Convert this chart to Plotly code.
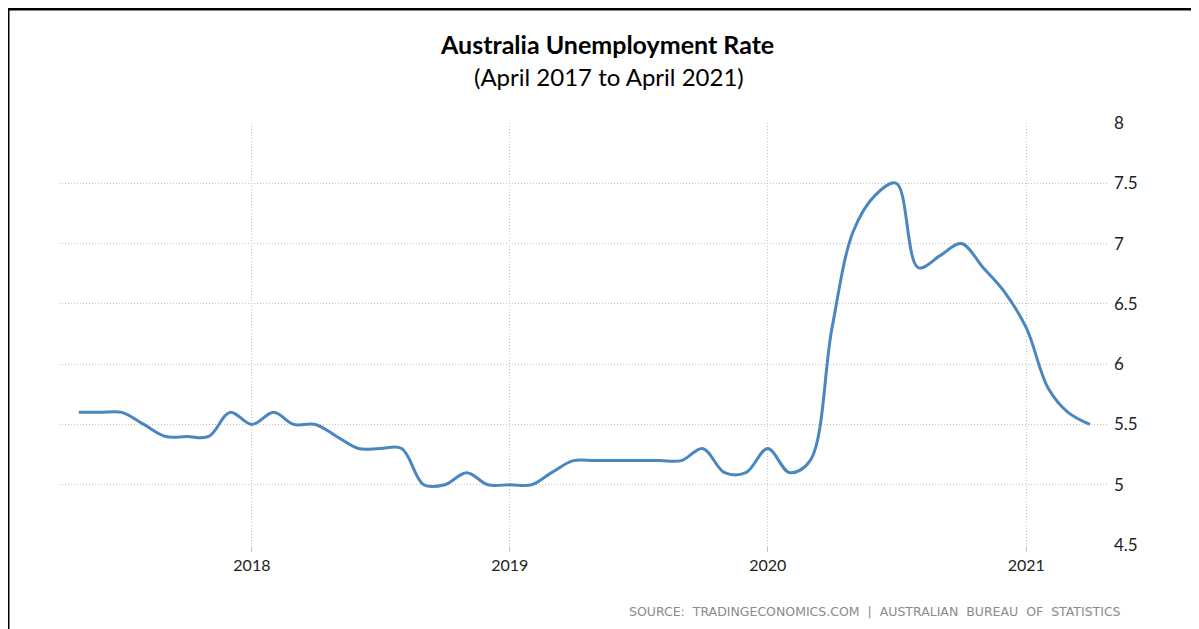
import plotly.graph_objects as go
import pandas as pd

# Monthly dates (month start) and unemployment rate (%)
dates = pd.date_range("2017-05-01", "2021-04-01", freq="MS")
rates = [
    5.6, 5.6, 5.6, 5.5, 5.4, 5.4, 5.4, 5.6,          # May-Dec 2017
    5.5, 5.6, 5.5, 5.5, 5.4, 5.3, 5.3, 5.3, 5.0, 5.0, 5.1, 5.0,  # 2018
    5.0, 5.0, 5.1, 5.2, 5.2, 5.2, 5.2, 5.2, 5.2, 5.3, 5.1, 5.1,  # 2019
    5.3, 5.1, 5.2, 6.3, 7.1, 7.4, 7.5, 6.8, 6.9, 7.0, 6.8, 6.6,  # 2020
    6.3, 5.8, 5.6, 5.5,                               # Jan-Apr 2021
]
x_ticks = ["2018-01-01", "2019-01-01", "2020-01-01", "2021-01-01"]
x_tick_labels = ["2018", "2019", "2020", "2021"]
y_ticks = [4.5, 5, 5.5, 6, 6.5, 7, 7.5, 8]

title = "Australia Unemployment Rate"
subtitle = "(April 2017 to April 2021)"
source = "SOURCE:  TRADINGECONOMICS.COM  |  AUSTRALIAN  BUREAU  OF  STATISTICS"

# The page body has an 8px margin; lay out in screen pixels minus that offset.
OFF = 8
SW, SH = 1199, 629            # screen size
W, H = SW - OFF, SH - OFF     # figure size
# plot area in screen pixels
PL, PR, PT, PB = 59, 1109, 123, 545
ml, mr, mt, mb = PL - OFF, W - (PR - OFF), PT - OFF, H - (PB - OFF)
pw, ph = PR - PL, PB - PT

def px2paper_x(px):
    return (px - PL) / pw

def px2paper_y(py):
    return (PB - py) / ph

fig = go.Figure()
fig.add_trace(go.Scatter(
    x=dates, y=rates, mode="lines",
    line=dict(color="#4A86BF", width=3, shape="spline", smoothing=1.0),
    hoverinfo="x+y",
))

GRID = "#c4c4c4"
fig.update_layout(
    width=W, height=H,
    margin=dict(l=ml, r=mr, t=mt, b=mb),
    paper_bgcolor="white", plot_bgcolor="white",
    showlegend=False,
    font=dict(family="Lato, Open Sans, sans-serif", color="#222222"),
    xaxis=dict(
        range=["2017-04-03", "2021-04-28"],
        tickvals=x_ticks, ticktext=x_tick_labels,
        showgrid=True, gridcolor=GRID, griddash="1px,2px", gridwidth=1,
        ticks="outside", ticklen=6, tickcolor=GRID,
        showline=False, zeroline=False,
        tickfont=dict(size=16, color="#222222"),
    ),
    yaxis=dict(
        range=[4.5, 8], side="right",
        tickvals=y_ticks, ticktext=[f"{v:g}" for v in y_ticks],
        showgrid=True, gridcolor=GRID, griddash="1px,2px", gridwidth=1,
        ticks="", showline=False, zeroline=False,
        tickfont=dict(size=17, color="#222222"),
        ticklabelstandoff=4,
    ),
    annotations=[
        dict(text="<b>" + title + "</b>", xref="paper", yref="paper",
             x=px2paper_x(607), y=px2paper_y(44), xanchor="center", yanchor="middle",
             showarrow=False, font=dict(size=25, color="#000000", family="Lato, sans-serif")),
        dict(text=subtitle, xref="paper", yref="paper",
             x=px2paper_x(609), y=px2paper_y(76), xanchor="center", yanchor="middle",
             showarrow=False, font=dict(size=24, color="#000000", family="Lato, sans-serif")),
        dict(text=source, xref="paper", yref="paper",
             x=px2paper_x(1123), y=px2paper_y(611), xanchor="right", yanchor="middle",
             showarrow=False, font=dict(size=12.5, color="#8a8a8a", family="DejaVu Sans, sans-serif")),
    ],
    shapes=[
        dict(type="line", xref="paper", yref="paper",
             x0=px2paper_x(8), x1=px2paper_x(8), y0=px2paper_y(9), y1=px2paper_y(640),
             line=dict(color="black", width=3)),
        dict(type="line", xref="paper", yref="paper",
             x0=px2paper_x(7), x1=px2paper_x(1210), y0=px2paper_y(9), y1=px2paper_y(9),
             line=dict(color="black", width=3)),
    ],
)

fig.write_html("out.html")
